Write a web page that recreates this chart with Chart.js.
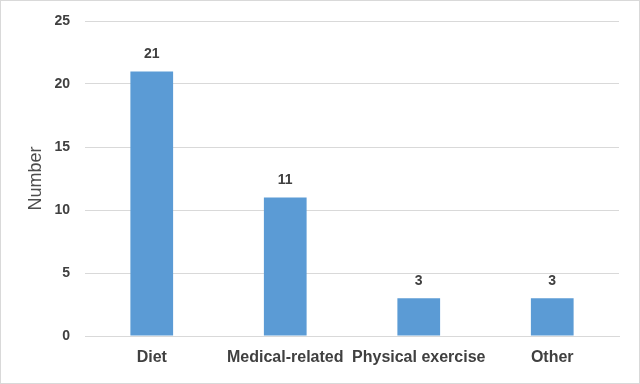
<!DOCTYPE html>
<html>
<head>
<meta charset="utf-8">
<script src="https://cdn.jsdelivr.net/npm/chart.js@4"></script>
<style>
  html, body { margin: 0; padding: 0; background: #fff; }
  #wrap { width: 638px; height: 382px; border: 1px solid #d9d9d9; }
</style>
</head>
<body>
<div id="wrap"><canvas id="canvas" width="638" height="382"></canvas></div>
<script>
const categories = ['Diet', 'Medical-related', 'Physical exercise', 'Other'];
const counts = [21, 11, 3, 3];
const yTicks = [0, 5, 10, 15, 20, 25];

const barLabels = {
  id: 'barLabels',
  afterDatasetsDraw(chart) {
    const ctx = chart.ctx;
    const meta = chart.getDatasetMeta(0);
    ctx.save();
    ctx.font = 'bold 14px "Liberation Sans", Arial, sans-serif';
    ctx.fillStyle = '#404040';
    ctx.textAlign = 'center';
    ctx.textBaseline = 'middle';
    meta.data.forEach((bar, i) => {
      ctx.fillText(String(counts[i]), bar.x, bar.y - 17);
    });
    ctx.restore();
  }
};

const chart = new Chart(document.getElementById('canvas'), {
  type: 'bar',
  data: {
    labels: categories,
    datasets: [{
      data: counts,
      backgroundColor: '#5b9bd5',
      categoryPercentage: 1,
      barPercentage: 0.32
    }]
  },
  options: {
    responsive: false,
    animation: false,
    devicePixelRatio: 1,
    layout: { padding: { left: 0, right: 20, top: 20, bottom: 0 } },
    plugins: { legend: { display: false }, tooltip: { enabled: false } },
    scales: {
      x: {
        grid: { display: false, drawTicks: false },
        border: { color: '#d9d9d9' },
        ticks: {
          color: '#404040',
          padding: 12,
          maxRotation: 0,
          autoSkip: false,
          font: { family: '"Liberation Sans", Arial, sans-serif', size: 16, weight: 'bold' }
        },
        afterFit(s) { s.height = 47; s.paddingLeft = 0; s.paddingRight = 0; }
      },
      y: {
        min: 0,
        max: 25,
        afterBuildTicks(s) { s.ticks = yTicks.map(v => ({ value: v })); },
        grid: { color: '#d9d9d9', drawTicks: false },
        border: { display: false },
        ticks: {
          color: '#404040',
          padding: 15,
          font: { family: '"Liberation Sans", Arial, sans-serif', size: 14, weight: 'bold' }
        },
        title: {
          display: true,
          text: 'Number',
          color: '#4d4d4d',
          padding: { top: 24, bottom: 0 },
          font: { family: '"Liberation Sans", Arial, sans-serif', size: 18 }
        },
        afterFit(s) { s.width = 84; s.paddingTop = 0; s.paddingBottom = 0; }
      }
    }
  },
  plugins: [barLabels]
});
</script>
</body>
</html>
